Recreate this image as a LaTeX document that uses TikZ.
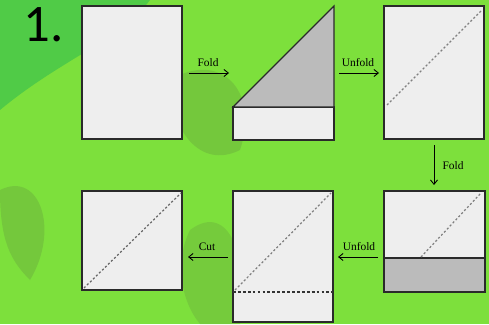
\documentclass[tikz,border=0pt]{standalone}
\usepackage{fontspec}
\setmainfont{Liberation Serif}
\newfontfamily\numfont{Carlito}
\usetikzlibrary{calc, arrows.meta}
\definecolor{leafgreen}{HTML}{7DE03C}
\definecolor{darkleaf}{HTML}{45C64A}
\definecolor{oliveleaf}{HTML}{6FB83C}
\definecolor{paperwhite}{HTML}{EEEEEE}
\definecolor{foldgray}{HTML}{BBBBBB}
\definecolor{edgegray}{HTML}{2A2A2A}

\begin{document}
\begin{tikzpicture}[x=0.02cm, y=-0.02cm,
    paper/.style={fill=paperwhite, draw=edgegray, line width=0.7pt},
    flap/.style={fill=foldgray, draw=edgegray, line width=0.7pt},
    crease/.style={draw=gray, line width=0.7pt, dash pattern=on 1.2pt off 1.2pt},
    cutline/.style={draw=black!80, line width=0.7pt, dash pattern=on 1.6pt off 1.2pt},
    stepline/.style={draw=black, line width=0.5pt, -{Straight Barb[length=2.5pt, width=4pt]}},
    steplabel/.style={font=\fontsize{6.5}{7}\selectfont, inner sep=0.5pt}]
  \useasboundingbox (0,0) rectangle (489,324);
  % background
  \fill[leafgreen] (0,0) rectangle (489,324);
  \fill[darkleaf, opacity=0.8] (0,0) -- (150,0) .. controls (120,40) and (60,60) .. (0,110) -- cycle;
  \fill[oliveleaf, opacity=0.6] (170,80) .. controls (220,50) and (260,90) .. (240,150) .. controls (200,170) and (170,130) .. cycle;
  \fill[oliveleaf, opacity=0.6] (0,190) .. controls (40,170) and (60,230) .. (30,280) .. controls (10,260) and (0,240) .. cycle;
  \fill[oliveleaf, opacity=0.5] (190,230) .. controls (230,200) and (250,260) .. (240,324) -- (200,324) .. controls (180,300) and (175,260) .. cycle;
  \node[font=\numfont\fontsize{30}{30}\selectfont, anchor=base west, inner sep=0pt] (num) at (23,42) {1.};

  % top row
  \draw[paper] (82,6) rectangle (182,139);
  \draw[paper] (233,107) rectangle (334,140);
  \draw[flap] (233,107) -- (334,6) -- (334,107) -- cycle;
  \draw[paper] (384,6) rectangle (484,139);
  \draw[crease] (387,105) -- (482,10);

  % bottom row
  \draw[paper] (384,191) rectangle (485,292);
  \draw[flap] (384,258) rectangle (485,292);
  \draw[crease] (421,257) -- (481,193);
  \draw[paper] (233,191) rectangle (333,322);
  \draw[crease] (235,290) -- (331,193);
  \draw[cutline] (233,292) -- (333,292);
  \draw[paper] (82,191) rectangle (182,290);
  \draw[crease, draw=black!60] (84,288) -- (181,193);

  % arrows
  \coordinate (f1a) at (189,73);  \coordinate (f1b) at (229,73);
  \coordinate (u1a) at (339,73);  \coordinate (u1b) at (379,73);
  \coordinate (f2a) at (434,145); \coordinate (f2b) at (434,185);
  \coordinate (u2a) at (378,257); \coordinate (u2b) at (338,257);
  \coordinate (ca) at (228,257);  \coordinate (cb) at (188,257);
  \draw[stepline] (f1a) -- (f1b);
  \draw[stepline] (u1a) -- (u1b);
  \draw[stepline] (f2a) -- (f2b);
  \draw[stepline] (u2a) -- (u2b);
  \draw[stepline] (ca) -- (cb);
  \node[steplabel] (fold1) at (208,63) {Fold};
  \node[steplabel] (unfold1) at (358,63) {Unfold};
  \node[steplabel] (fold2) at (453,166) {Fold};
  \node[steplabel] (unfold2) at (359,247) {Unfold};
  \node[steplabel] (cut) at (207,247) {Cut};
\end{tikzpicture}
\end{document}
